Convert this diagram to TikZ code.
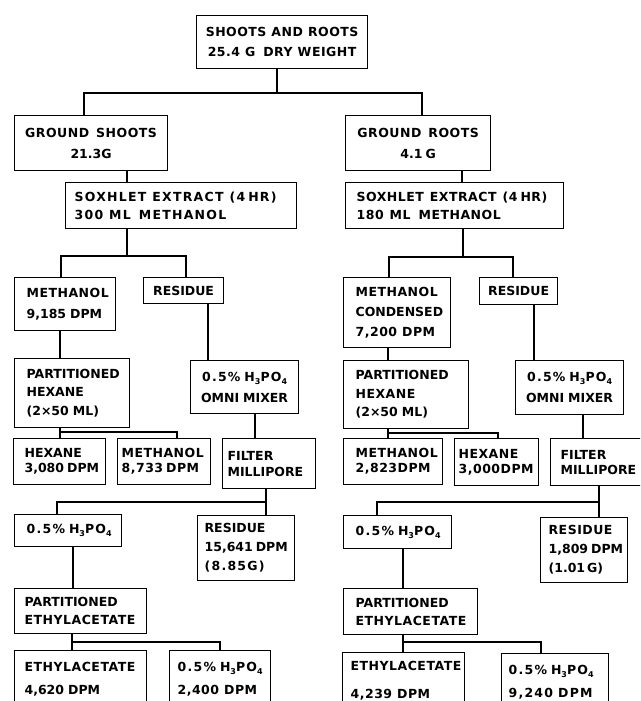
\documentclass[tikz,border=0pt]{standalone}
\usepackage{fontspec}
\setmainfont{DejaVu Sans Bold}
\newfontfamily\fc{DejaVu Sans Bold}
\newfontfamily\fa[LetterSpace=4]{DejaVu Sans Bold}
\newfontfamily\fb[LetterSpace=10]{DejaVu Sans Bold}
\newcommand\myfsub[1]{\raisebox{-3pt}{\fontsize{8}{8}\selectfont #1}}
\newcommand\hpo{H\myfsub{3}PO\myfsub{4}}
\newcommand\sk[1]{\kern #1pt\relax}
\hyphenpenalty=10000
\exhyphenpenalty=10000
\tikzset{
  bx/.style={draw, line width=1.2pt, anchor=north west, inner ysep=0pt},
  lft/.style={align=left},
  ctr/.style={align=center},
  conn/.style={line width=1.8pt},
}
\begin{document}
\begin{tikzpicture}[x=1pt,y=-1pt]
\useasboundingbox (0,0) rectangle (640,701);
\fill[white] (0,0) rectangle (640,701);
\clip (0,0) rectangle (640,701);

% ---- boxes ----
\node[bx,ctr,minimum width=171pt,minimum height=53pt,inner xsep=3pt,text width=165pt,font={\fontsize{12.5}{20}\selectfont}] (top) at (196,15)
  {\fa SHOOTS\sk5AND\sk5ROOTS\\\fa 25.4\sk5G\sk8DRY\sk5WEIGHT};
\node[bx,ctr,minimum width=153pt,minimum height=55pt,inner xsep=3pt,text width=147pt,font={\fontsize{12.5}{21}\selectfont}] (gs) at (14,115)
  {\fa GROUND\sk7SHOOTS\\\fc 21.3G};
\node[bx,ctr,minimum width=145pt,minimum height=55pt,inner xsep=3pt,text width=139pt,font={\fontsize{12.5}{21}\selectfont}] (gr) at (345,115)
  {\fa GROUND\sk7ROOTS\\\fc 4.1\sk3G};
\node[bx,lft,minimum width=231pt,minimum height=46pt,inner xsep=9pt,text width=213pt,font={\fontsize{12.5}{18}\selectfont}] (sxl) at (65,182)
  {\fb SOXHLET\sk6EXTRACT\sk6(4\sk3HR)\\\fb 300\sk6ML\sk8METHANOL};
\node[bx,lft,minimum width=218pt,minimum height=46pt,inner xsep=11pt,text width=196pt,font={\fontsize{12.5}{18}\selectfont}] (sxr) at (345,182)
  {\fa SOXHLET\sk6EXTRACT\sk6(4\sk3HR)\\\fa 180\sk6ML\sk8METHANOL};

\node[bx,lft,minimum width=101pt,minimum height=53pt,inner xsep=12pt,text width=77pt,font={\fontsize{12.5}{21}\selectfont}] (mel) at (14,277)
  {\fa METHANOL\\\fc 9,185\sk4DPM};
\node[bx,ctr,minimum width=80pt,minimum height=26pt,inner xsep=2pt,text width=76pt,font={\fontsize{12.5}{20}\selectfont}] (rel) at (143,277)
  {\fc RESIDUE};
\node[bx,lft,minimum width=107pt,minimum height=70pt,inner xsep=12pt,text width=83pt,font={\fontsize{12.5}{20}\selectfont}] (mer) at (343,277)
  {\fa METHANOL\\\fc CONDENSED\\\fa 7,200\sk5DPM};
\node[bx,ctr,minimum width=78pt,minimum height=27pt,inner xsep=2pt,text width=74pt,font={\fontsize{12.5}{20}\selectfont}] (rer) at (479,277)
  {\fc RESIDUE};

\node[bx,lft,minimum width=115pt,minimum height=69pt,inner xsep=12pt,text width=91pt,font={\fontsize{12.5}{18.5}\selectfont}] (phl) at (14,358)
  {\fc PARTITIONED\\\fc HEXANE\\\fc (2×50\sk4ML)};
\node[bx,ctr,minimum width=108pt,minimum height=53pt,inner xsep=2pt,text width=104pt,font={\fontsize{12.5}{21}\selectfont}] (oml) at (190,360)
  {\fb 0.5\%\sk4\hpo\\\fc OMNI\sk4MIXER};
\node[bx,lft,minimum width=125pt,minimum height=68pt,inner xsep=12pt,text width=101pt,font={\fontsize{12.5}{18.5}\selectfont}] (phr) at (343,360)
  {\fc PARTITIONED\\\fa HEXANE\\\fc (2×50\sk4ML)};
\node[bx,ctr,minimum width=108pt,minimum height=54pt,inner xsep=2pt,text width=104pt,font={\fontsize{12.5}{21}\selectfont}] (omr) at (515,360)
  {\fb 0.5\%\sk4\hpo\\\fc OMNI\sk4MIXER};

\node[bx,lft,minimum width=92pt,minimum height=46pt,inner xsep=11pt,text width=70pt,font={\fontsize{12.5}{15}\selectfont}] (hxl) at (13,438)
  {\fc HEXANE\\\fc 3,080\sk3DPM};
\node[bx,lft,minimum width=93pt,minimum height=46pt,inner xsep=4pt,text width=85pt,font={\fontsize{12.5}{15}\selectfont}] (m2l) at (117,438)
  {\fa METHANOL\\\fa 8,733\sk3DPM};
\node[bx,lft,minimum width=93pt,minimum height=50pt,inner xsep=5pt,text width=83pt,font={\fontsize{12.5}{16}\selectfont}] (fil) at (222,438)
  {\fc FILTER\\\fc MILLIPORE};
\node[bx,lft,minimum width=99pt,minimum height=46pt,inner xsep=12pt,text width=75pt,font={\fontsize{12.5}{15}\selectfont}] (m2r) at (343,438)
  {\fa METHANOL\\\fa 2,823DPM};
\node[bx,lft,minimum width=84pt,minimum height=47pt,inner xsep=4pt,text width=76pt,font={\fontsize{12.5}{15}\selectfont}] (hxr) at (454,438)
  {\fa HEXANE\\\fa 3,000DPM};
\node[bx,lft,minimum width=100pt,minimum height=47pt,inner xsep=10pt,text width=80pt,font={\fontsize{12.5}{15}\selectfont}] (fir) at (550,438)
  {\fc FILTER\\\fc MILLIPORE};

\node[bx,lft,minimum width=107pt,minimum height=32pt,inner xsep=12pt,text width=83pt,font={\fontsize{12.5}{18}\selectfont}] (pal) at (14,514)
  {\fb 0.5\%\sk4\hpo};
\node[bx,lft,minimum width=97pt,minimum height=65pt,inner xsep=7pt,text width=83pt,font={\fontsize{12.5}{19}\selectfont}] (rsl) at (197,515)
  {\fc RESIDUE\\\fc 15,641\sk3DPM\\\fb (8.85G)};
\node[bx,lft,minimum width=108pt,minimum height=33pt,inner xsep=12pt,text width=84pt,font={\fontsize{12.5}{18}\selectfont}] (par) at (343,515)
  {\fb 0.5\%\sk4\hpo};
\node[bx,lft,minimum width=87pt,minimum height=65pt,inner xsep=8pt,text width=71pt,font={\fontsize{12.5}{19}\selectfont}] (rsr) at (540,517)
  {\fa RESIDUE\\\fc 1,809\sk3DPM\\\fc (1.01\sk2G)};

\node[bx,lft,minimum width=132pt,minimum height=45pt,inner xsep=10pt,text width=112pt,font={\fontsize{12.5}{18}\selectfont}] (pel) at (14,588)
  {\fc PARTITIONED\\\fa ETHYLACETATE};
\node[bx,lft,minimum width=134pt,minimum height=46pt,inner xsep=12pt,text width=110pt,font={\fontsize{12.5}{18}\selectfont}] (per) at (343,588)
  {\fc PARTITIONED\\\fa ETHYLACETATE};

\node[bx,lft,minimum width=132pt,minimum height=57pt,inner xsep=10pt,text width=112pt,font={\fontsize{12.5}{23}\selectfont}] (eal) at (14,650)
  {\fa ETHYLACETATE\\\fc 4,620\sk4DPM};
\node[bx,lft,minimum width=101pt,minimum height=57pt,inner xsep=8pt,text width=85pt,font={\fontsize{12.5}{23}\selectfont}] (ppl) at (169,650)
  {\fb 0.5\%\sk4\hpo\\\fa 2,400\sk5DPM};
\node[bx,lft,minimum width=122pt,minimum height=57pt,inner xsep=8pt,text width=106pt,font={\fontsize{12.5}{23}\selectfont}] (ear) at (342,652)
  {\fa ETHYLACETATE\\\sk5\fa 4,239\sk5DPM};
\node[bx,lft,minimum width=107pt,minimum height=57pt,inner xsep=7pt,text width=93pt,font={\fontsize{12.5}{23}\selectfont}] (ppr) at (501,653)
  {\fb 0.5\%\sk4\hpo\\\fb 9,240\sk5DPM};

% ---- connectors ----
\coordinate (j1) at (277,93);
\draw[conn] (top.south -| j1) -- (j1);
\draw[conn] (gs.north -| 84,0) |- (j1) -| (gr.north -| 422,0);
\draw[conn] (gs.south -| 127,0) -- (sxl.north -| 127,0);
\draw[conn] (gr.south -| 462,0) -- (sxr.north -| 462,0);

\coordinate (j2) at (127,256);
\draw[conn] (sxl.south -| j2) -- (j2);
\draw[conn] (mel.north -| 61,0) |- (j2) -| (rel.north -| 186,0);
\coordinate (j3) at (463,257);
\draw[conn] (sxr.south -| j3) -- (j3);
\draw[conn] (mer.north -| 389,0) |- (j3) -| (rer.north -| 513,0);

\draw[conn] (mel.south -| 60,0) -- (phl.north -| 60,0);
\draw[conn] (rel.south -| 208,0) -- (oml.north -| 208,0);
\draw[conn] (mer.south -| 388,0) -- (phr.north -| 388,0);
\draw[conn] (rer.south -| 534,0) -- (omr.north -| 534,0);

\coordinate (j4) at (60,432);
\draw[conn] (phl.south -| j4) -- (hxl.north -| j4);
\draw[conn] (j4) -| (m2l.north -| 177,0);
\draw[conn] (oml.south -| 255,0) -- (fil.north -| 255,0);
\coordinate (j5) at (388,433);
\draw[conn] (phr.south -| j5) -- (m2r.north -| j5);
\draw[conn] (j5) -| (hxr.north -| 498,0);
\draw[conn] (omr.south -| 583,0) -- (fir.north -| 583,0);

\coordinate (j6) at (266,502);
\draw[conn] (fil.south -| j6) -- (rsl.north -| j6);
\draw[conn] (pal.north -| 57,0) |- (j6);
\coordinate (j7) at (599,502);
\draw[conn] (fir.south -| j7) -- (rsr.north -| j7);
\draw[conn] (par.north -| 377,0) |- (j7);

\draw[conn] (pal.south -| 73,0) -- (pel.north -| 73,0);
\draw[conn] (par.south -| 403,0) -- (per.north -| 403,0);

\coordinate (j8) at (72,642);
\draw[conn] (pel.south -| j8) -- (eal.north -| j8);
\draw[conn] (j8) -| (ppl.north -| 220,0);
\coordinate (j9) at (403,642);
\draw[conn] (per.south -| j9) -- (ear.north -| j9);
\draw[conn] (j9) -| (ppr.north -| 541,0);
\end{tikzpicture}
\end{document}
